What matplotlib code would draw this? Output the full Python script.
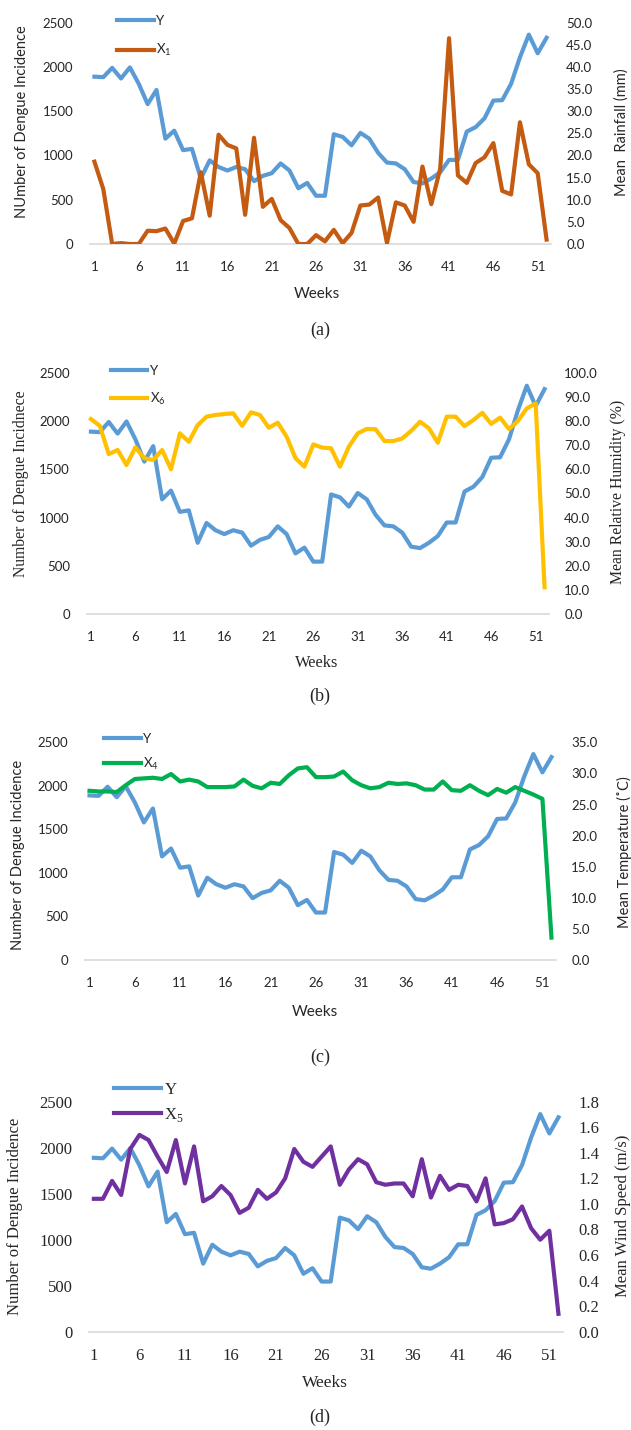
import matplotlib
matplotlib.use("Agg")
import matplotlib.pyplot as plt
import numpy as np

# weekly dengue cases and weather, 52 weeks
weeks = np.arange(1, 53)

Y = [1890, 1885, 1990, 1870, 1995, 1810, 1580, 1740, 1190, 1280,
     1060, 1075, 740, 945, 870, 830, 870, 845, 710, 770,
     800, 910, 830, 630, 690, 545, 545, 1240, 1210, 1115,
     1255, 1190, 1030, 920, 910, 845, 700, 685, 740, 810,
     950, 950, 1270, 1320, 1420, 1620, 1625, 1810, 2110, 2365,
     2155, 2330]

# rainfall (mm)
X1 = [18.6, 12.4, 0.0, 0.2, 0.0, 0.0, 3.0, 2.9, 3.5, 0.1,
      5.2, 5.8, 16.2, 6.4, 24.7, 22.4, 21.6, 6.6, 24.0, 8.4,
      10.2, 5.4, 3.6, 0.0, 0.0, 2.0, 0.6, 3.2, 0.2, 2.5,
      8.7, 8.9, 10.5, 0.2, 9.4, 8.7, 5.0, 17.5, 9.0, 17.0,
      46.5, 15.5, 13.8, 18.3, 19.6, 22.8, 12.0, 11.2, 27.5, 18.0,
      16.0, 1.0]

# relative humidity (%)
X6 = [80.8, 78.0, 66.3, 68.0, 61.8, 69.1, 64.6, 63.9, 68.0, 60.0,
      74.9, 71.4, 78.3, 81.8, 82.5, 82.9, 83.2, 78.0, 83.6, 82.5,
      77.2, 79.3, 73.5, 64.6, 61.1, 70.3, 69.0, 68.7, 61.1, 69.4,
      74.9, 76.7, 76.6, 71.7, 71.7, 72.8, 75.9, 79.7, 77.0, 71.0,
      81.8, 81.8, 77.9, 80.4, 83.4, 78.8, 81.4, 76.7, 80.0, 85.2,
      87.3, 11.2]

# temperature (C)
X4 = [27.2, 27.1, 27.1, 27.0, 28.1, 29.1, 29.2, 29.3, 29.1, 29.9,
      28.7, 29.0, 28.7, 27.8, 27.8, 27.8, 27.9, 29.0, 28.0, 27.6,
      28.5, 28.3, 29.7, 30.8, 31.0, 29.4, 29.4, 29.5, 30.3, 28.9,
      28.1, 27.6, 27.8, 28.5, 28.3, 28.4, 28.1, 27.4, 27.4, 28.7,
      27.3, 27.2, 28.1, 27.2, 26.5, 27.5, 26.9, 27.8, 27.2, 26.6,
      25.9, 3.6]

# wind speed (m/s)
X5 = [1.04, 1.04, 1.18, 1.07, 1.43, 1.54, 1.50, 1.37, 1.25, 1.50,
      1.16, 1.45, 1.02, 1.06, 1.14, 1.07, 0.93, 0.97, 1.11, 1.04,
      1.09, 1.20, 1.43, 1.33, 1.29, 1.37, 1.45, 1.15, 1.27, 1.35,
      1.31, 1.17, 1.15, 1.16, 1.16, 1.06, 1.35, 1.05, 1.22, 1.11,
      1.15, 1.14, 1.02, 1.20, 0.84, 0.85, 0.88, 0.98, 0.81, 0.72,
      0.79, 0.14]

xticks = list(range(1, 53, 5))
left_ticks = [0, 500, 1000, 1500, 2000, 2500]

SANS = ["Lato", "DejaVu Sans"]
SERIF = ["Liberation Serif", "DejaVu Serif"]

W, H = 631, 1430
fig = plt.figure(figsize=(W / 100, H / 100), dpi=100)

# one dict per panel: series, names, axis box in px (l, t, r, b), fonts, label spots
panels = [
    dict(x=X1, name="X$_\\mathregular{1}$", color="#C55A11", ymax=50, step=5,
         ylab="NUmber of Dengue Incidence", rlab="Mean  Rainfall (mm)",
         box=(90, 22.7, 551, 244), tickf=SANS, legf=SANS, labf=SANS, ts=9.5, ls=10.5,
         legxy=(0.058, 1.037), legsp=1.2, lab_pos=(-0.148, 0.551), rlab_pos=(1.153, 0.504),
         xlab_pos=(0.492, -0.227), cap="(a)", cap_y=330),
    dict(x=X6, name="X$_\\mathregular{6}$", color="#FFC000", ymax=100, step=10,
         ylab="Number of Dengue Incidnece", rlab="Mean Relative Humidity (%)",
         box=(86.5, 372.7, 549, 614.3), tickf=SANS, legf=SANS, labf=SERIF, ts=9.5, ls=11.3,
         legxy=(0.052, 1.033), legsp=1.08, lab_pos=(-0.142, 0.542), rlab_pos=(1.150, 0.507),
         xlab_pos=(0.498, -0.200), cap="(b)", cap_y=696),
    dict(x=X4, name="X$_\\mathregular{4}$", color="#00B050", ymax=35, step=5,
         ylab="Number of Dengue Incidence", rlab="Mean Temperature (\u02daC)",
         box=(85, 742.3, 556, 960), tickf=SANS, legf=SANS, labf=SANS, ts=9.5, ls=10.5,
         legxy=(0.040, 1.044), legsp=0.86, lab_pos=(-0.1416, 0.482), rlab_pos=(1.146, 0.497),
         xlab_pos=(0.488, -0.2375), cap="(c)", cap_y=1057),
    dict(x=X5, name="X$_\\mathregular{5}$", color="#7030A0", ymax=1.8, step=0.2,
         ylab="Number of Dengue Incidence", rlab="Mean Wind Speed (m/s)",
         box=(89.3, 1101.7, 563, 1331.7), tickf=SERIF, legf=SERIF, labf=SERIF, ts=12, ls=12,
         legxy=(0.053, 1.085), legsp=0.45, lab_pos=(-0.157, 0.500), rlab_pos=(1.127, 0.505),
         xlab_pos=(0.4976, -0.224), cap="(d)", cap_y=1417.3),
]

for p in panels:
    l, t, r, b = p["box"]
    ax = fig.add_axes([l / W, 1 - b / H, (r - l) / W, (b - t) / H])
    ax2 = ax.twinx()

    h1, = ax.plot(weeks, Y, color="#5B9BD5", lw=3, solid_joinstyle="round")
    h2, = ax2.plot(weeks, p["x"], color=p["color"], lw=3, solid_joinstyle="round")

    ax.set_xlim(0.5, 52.5)
    ax.set_ylim(0, 2500)
    ax2.set_ylim(0, p["ymax"])
    ax.set_yticks(left_ticks)
    rt = np.round(np.arange(0, p["ymax"] + p["step"] / 2, p["step"]), 1)
    ax2.set_yticks(rt)
    ax2.set_yticklabels([f"{v:.1f}" for v in rt])
    ax.set_xticks(xticks)

    for a in (ax, ax2):
        for s in a.spines.values():
            s.set_visible(False)
        a.tick_params(length=0)
    ax.spines["bottom"].set_visible(True)
    ax.spines["bottom"].set_color("#D9D9D9")
    ax.spines["bottom"].set_linewidth(1.2)

    ax.tick_params(axis="x", pad=12)
    ax.tick_params(axis="y", pad=12)
    ax2.tick_params(axis="y", pad=11)
    for lab in ax.get_xticklabels() + ax.get_yticklabels() + ax2.get_yticklabels():
        lab.set_family(p["tickf"])
        lab.set_fontsize(p["ts"])
        lab.set_color("#262626")

    ax.set_ylabel(p["ylab"], family=p["labf"], fontsize=p["ls"], color="#262626")
    ax.yaxis.set_label_coords(*p["lab_pos"])
    ax.yaxis.label.set_va("center")
    ax2.set_ylabel(p["rlab"], family=p["labf"], fontsize=p["ls"], color="#262626")
    ax2.yaxis.set_label_coords(*p["rlab_pos"])
    ax2.yaxis.label.set_va("center")
    ax.set_xlabel("Weeks", family=p["labf"], fontsize=p["ls"] + 0.5, color="#262626")
    ax.xaxis.set_label_coords(*p["xlab_pos"])
    ax.xaxis.label.set_va("center")

    leg = ax2.legend([h1, h2], ["Y", p["name"]], loc="upper left",
                     bbox_to_anchor=p["legxy"], frameon=False, handlelength=2.8,
                     handletextpad=0.2, borderpad=0, borderaxespad=0,
                     labelspacing=p["legsp"], prop={"family": p["legf"], "size": p["ts"]})
    for txt in leg.get_texts():
        txt.set_color("#262626")

    fig.text(320 / W, 1 - p["cap_y"] / H, p["cap"], ha="center", va="center",
             family=SERIF, fontsize=13, color="#262626")

fig.savefig("out.png", dpi=100)
